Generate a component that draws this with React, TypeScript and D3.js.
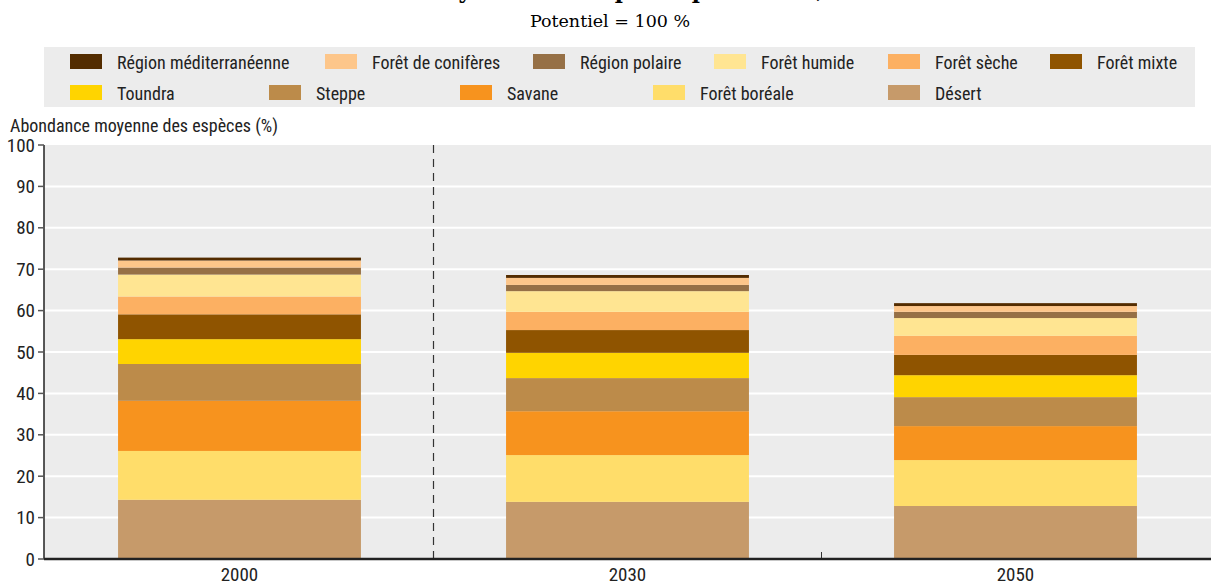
import React from "react";
import * as d3 from "d3";

const years = ["2000", "2030", "2050"];
const biomes = [
  "Désert",
  "Forêt boréale",
  "Savane",
  "Steppe",
  "Toundra",
  "Forêt mixte",
  "Forêt sèche",
  "Forêt humide",
  "Région polaire",
  "Forêt de conifères",
  "Région méditerranéenne",
];
const desert = [14.3, 13.8, 12.8];
const boreale = [11.8, 11.3, 11.1];
const savane = [12.1, 10.6, 8.2];
const steppe = [8.9, 8.0, 7.0];
const toundra = [6.0, 6.1, 5.3];
const mixte = [6.0, 5.5, 4.9];
const seche = [4.3, 4.4, 4.6];
const humide = [5.3, 5.0, 4.3];
const polaire = [1.7, 1.5, 1.5];
const coniferes = [1.7, 1.7, 1.4];
const mediterraneenne = [0.7, 0.7, 0.7];
const seriesValues = [desert, boreale, savane, steppe, toundra, mixte, seche, humide, polaire, coniferes, mediterraneenne];
const colors = [
  "#c69a6a",
  "#ffdd6a",
  "#f7931e",
  "#bc8b4a",
  "#ffd400",
  "#8f5400",
  "#fcb062",
  "#ffe592",
  "#967046",
  "#fdc68a",
  "#532c00",
];
const yTicks = [0, 10, 20, 30, 40, 50, 60, 70, 80, 90, 100];

const legendRow1 = ["Région méditerranéenne", "Forêt de conifères", "Région polaire", "Forêt humide", "Forêt sèche", "Forêt mixte"];
const legendRow2 = ["Toundra", "Steppe", "Savane", "Forêt boréale", "Désert"];
const legendX1 = [70, 325, 533, 714, 888, 1050];
const legendX2 = [70, 269, 460, 653, 888];

const FONT = "'Liberation Sans Narrow', 'Arial Narrow', 'Roboto Condensed', sans-serif";

export default function App() {
  const W = 1211;
  const H = 587;
  const plotLeft = 44;
  const plotRight = 1211;
  const plotTop = 145;
  const plotBottom = 559;

  const x = d3
    .scaleBand<string>()
    .domain(years)
    .range([45.5, 1209.5])
    .paddingInner(0.374)
    .paddingOuter(0.187);
  const y = d3.scaleLinear().domain([0, 100]).range([plotBottom, plotTop]);

  const table = years.map((yr, i) => {
    const row: any = { year: yr };
    biomes.forEach((b, j) => (row[b] = seriesValues[j][i]));
    return row;
  });
  const stack = d3.stack<any>().keys(biomes)(table);
  const colorOf = (name: string) => colors[biomes.indexOf(name)];

  const step = x.step();
  const bound1 = (x(years[0]) as number) + x.bandwidth() / 2 + step / 2;
  const bound2 = (x(years[1]) as number) + x.bandwidth() / 2 + step / 2;

  return (
    <svg width={W} height={H} style={{ position: "absolute", left: 0, top: 0 }}>
      <rect x={0} y={0} width={W} height={H} fill="#ffffff" />
      <text x={620} y={-2} textAnchor="middle" fontFamily="'DejaVu Serif', serif" fontWeight="bold" fontSize={22} fill="#000">
        Abondance moyenne des espèces par biome, 2000-2050
      </text>
      <text x={610} y={27} textAnchor="middle" fontFamily="'DejaVu Serif', serif" fontSize={17.5} fill="#000">
        Potentiel = 100 %
      </text>

      {/* legend */}
      <rect x={44} y={47} width={1151} height={60} fill="#ececec" />
      {legendRow1.map((name, i) => (
        <g key={name}>
          <rect x={legendX1[i]} y={54} width={32} height={15} fill={colorOf(name)} />
          <text x={legendX1[i] + 47} y={68.5} fontFamily={FONT} fontSize={18} fill="#222">
            {name}
          </text>
        </g>
      ))}
      {legendRow2.map((name, i) => (
        <g key={name}>
          <rect x={legendX2[i]} y={85} width={32} height={15} fill={colorOf(name)} />
          <text x={legendX2[i] + 47} y={99.5} fontFamily={FONT} fontSize={18} fill="#222">
            {name}
          </text>
        </g>
      ))}

      {/* y label */}
      <text x={10} y={132} fontFamily={FONT} fontSize={18} fill="#222">
        Abondance moyenne des espèces (%)
      </text>

      {/* plot bg */}
      <rect x={plotLeft} y={plotTop} width={plotRight - plotLeft} height={plotBottom - plotTop} fill="#ececec" />
      {yTicks
        .filter((t) => t > 0 && t < 100)
        .map((t) => (
          <line key={t} x1={plotLeft} x2={plotRight} y1={y(t)} y2={y(t)} stroke="#ffffff" strokeWidth={2} />
        ))}

      {/* bars */}
      {stack.map((s) => (
        <g key={s.key} fill={colorOf(s.key)}>
          {s.map((d, i) => (
            <rect
              key={i}
              x={x(years[i])}
              width={x.bandwidth()}
              y={y(d[1])}
              height={y(d[0]) - y(d[1])}
            />
          ))}
        </g>
      ))}

      {/* dashed separator */}
      <line x1={bound1} x2={bound1} y1={plotTop} y2={plotBottom} stroke="#333" strokeWidth={1.2} strokeDasharray="8,6" />
      <line x1={bound2} x2={bound2} y1={plotBottom - 7} y2={plotBottom} stroke="#333" strokeWidth={1} />

      {/* y axis */}
      <line x1={plotLeft} x2={plotLeft} y1={plotTop} y2={plotBottom} stroke="#222" strokeWidth={1.5} />
      {yTicks.map((t) => (
        <g key={t}>
          <line x1={plotLeft - 6} x2={plotLeft} y1={y(t)} y2={y(t)} stroke="#555" strokeWidth={1.5} />
          <text x={35} y={y(t) + 6.5} textAnchor="end" fontFamily={FONT} fontSize={19} fill="#222">
            {t}
          </text>
        </g>
      ))}

      {/* x axis */}
      <line x1={plotLeft} x2={plotRight} y1={plotBottom} y2={plotBottom} stroke="#222" strokeWidth={2.5} />
      {years.map((yr) => (
        <text
          key={yr}
          x={(x(yr) as number) + x.bandwidth() / 2}
          y={581}
          textAnchor="middle"
          fontFamily={FONT}
          fontSize={19}
          fill="#222"
        >
          {yr}
        </text>
      ))}
    </svg>
  );
}
